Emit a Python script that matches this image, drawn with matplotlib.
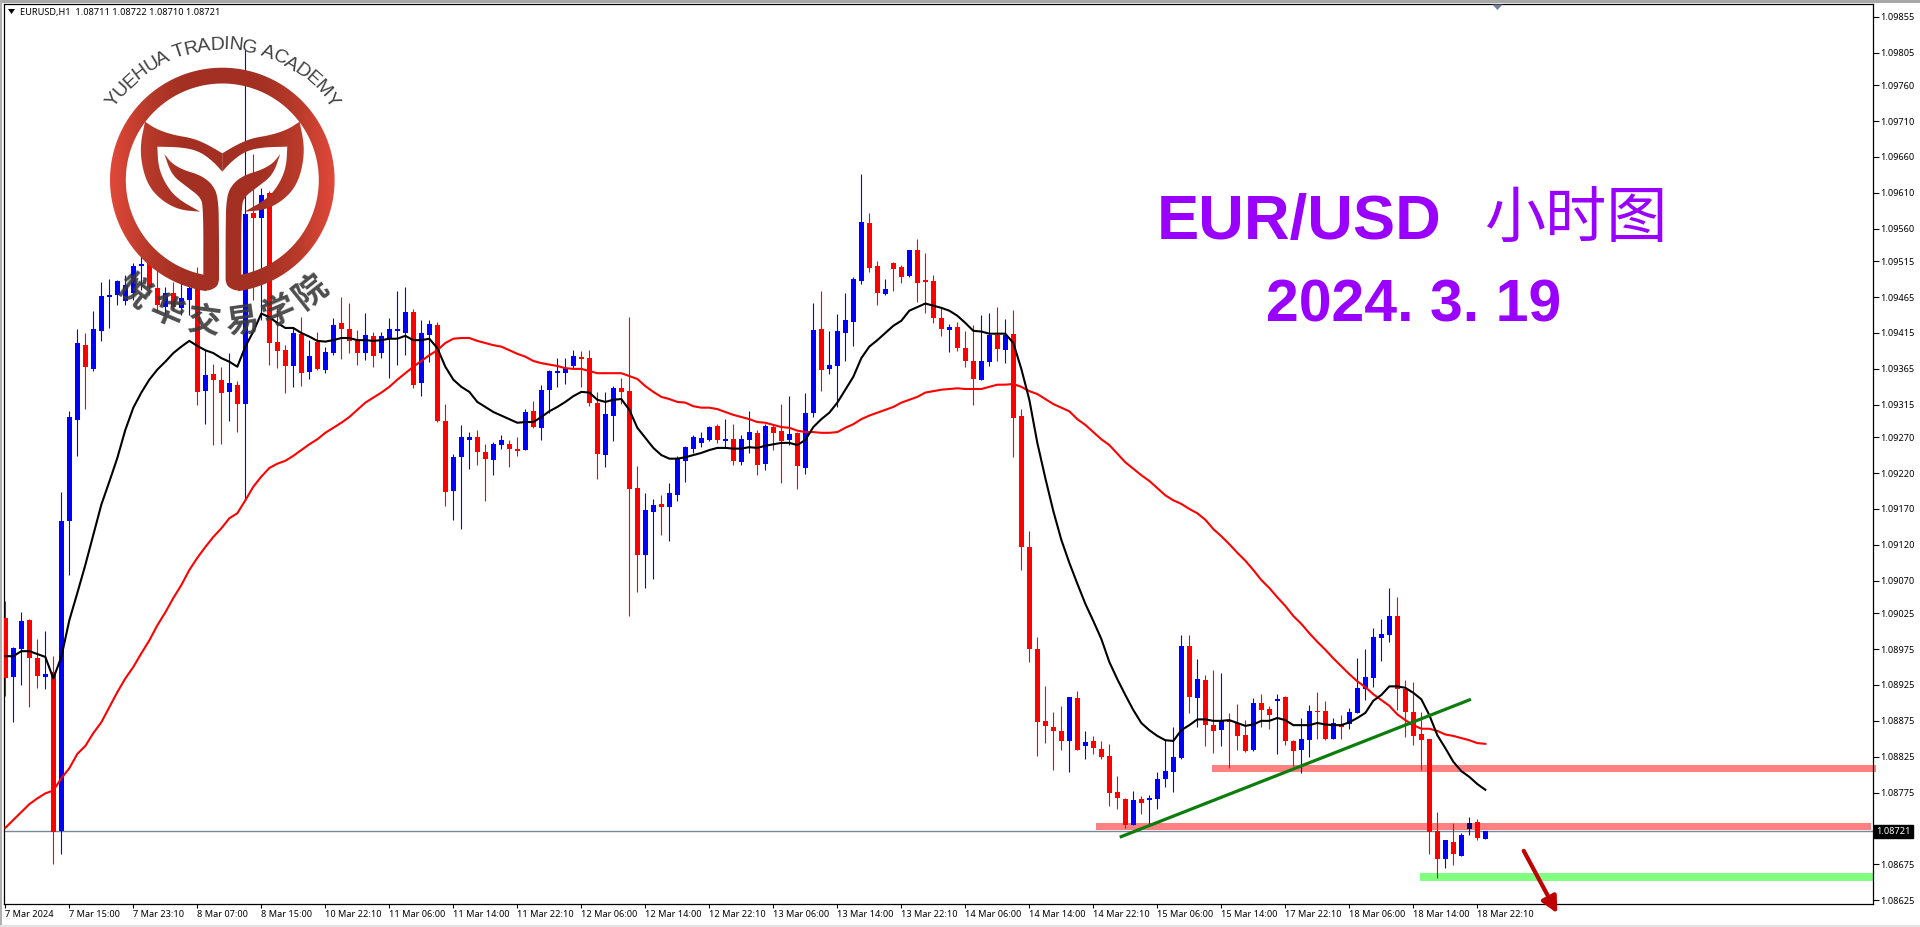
import numpy as np
import matplotlib
matplotlib.use('Agg')
import matplotlib.pyplot as plt
from matplotlib.colors import LinearSegmentedColormap
from matplotlib.font_manager import FontProperties
from matplotlib.patches import Polygon, Rectangle
from matplotlib.transforms import ScaledTranslation

# all prices are in points above this level
base_price = 1.08

opens = [
    1018, 936, 975, 1015, 962, 936, 943, 721, 1153, 1294,
    1398, 1365, 1418, 1465, 1468, 1460, 1471, 1508, 1513, 1478,
    1451, 1471, 1450, 1461, 1479, 1334, 1358, 1350, 1333, 1343,
    1316, 1582, 1575, 1610, 1403, 1391, 1369, 1414, 1361, 1403,
    1364, 1387, 1429, 1421, 1404, 1387, 1411, 1387, 1408, 1418,
    1415, 1444, 1345, 1412, 1426, 1293, 1195, 1242, 1266, 1270,
    1249, 1238, 1259, 1260, 1254, 1252, 1306, 1283, 1336, 1359,
    1359, 1369, 1382, 1380, 1318, 1245, 1300, 1338, 1334, 1199,
    1106, 1166, 1177, 1173, 1189, 1237, 1254, 1262, 1266, 1286,
    1265, 1267, 1235, 1266, 1276, 1233, 1284, 1279, 1266, 1276,
    1227, 1304, 1421, 1365, 1369, 1415, 1430, 1488, 1568, 1508,
    1469, 1513, 1507, 1495, 1531, 1489, 1488, 1436, 1419, 1423,
    1394, 1376, 1350, 1375, 1412, 1391, 1414, 1300, 1117, 975,
    875, 866, 861, 847, 907, 840, 847, 836, 826, 776,
    766, 730, 766, 765, 766, 794, 804, 823, 979, 907,
    932, 869, 862, 876, 872, 855, 834, 900, 891, 902,
    908, 847, 834, 848, 889, 889, 850, 869, 870, 886,
    919, 935, 990, 994, 1021, 919, 887, 857, 850, 721,
    682, 707, 687, 724, 734, 711,
]
closes = [
    934, 976, 1014, 962, 937, 940, 720, 1153, 1298, 1401,
    1368, 1421, 1467, 1468, 1488, 1482, 1508, 1511, 1479, 1454,
    1471, 1451, 1464, 1478, 1333, 1357, 1350, 1332, 1345, 1316,
    1581, 1575, 1607, 1401, 1390, 1369, 1415, 1359, 1383, 1365,
    1389, 1426, 1421, 1404, 1387, 1412, 1383, 1411, 1421, 1421,
    1444, 1343, 1415, 1428, 1293, 1194, 1242, 1270, 1270, 1249,
    1240, 1260, 1266, 1254, 1251, 1305, 1284, 1336, 1362, 1362,
    1366, 1383, 1379, 1318, 1247, 1302, 1338, 1333, 1198, 1106,
    1169, 1176, 1173, 1192, 1240, 1256, 1270, 1269, 1284, 1266,
    1267, 1237, 1267, 1277, 1231, 1286, 1276, 1265, 1274, 1230,
    1304, 1419, 1364, 1371, 1418, 1433, 1490, 1570, 1506, 1471,
    1476, 1504, 1493, 1531, 1485, 1486, 1436, 1421, 1423, 1394,
    1376, 1351, 1376, 1412, 1393, 1412, 1297, 1117, 975, 873,
    868, 861, 847, 908, 834, 845, 837, 824, 774, 767,
    730, 765, 760, 767, 794, 805, 824, 979, 908, 933,
    869, 861, 875, 873, 854, 833, 900, 890, 883, 905,
    847, 833, 850, 889, 887, 850, 872, 866, 887, 921,
    936, 992, 996, 1021, 919, 887, 854, 848, 720, 682,
    709, 689, 716, 733, 712, 721,
]
highs = [
    1042, 978, 1026, 1017, 989, 1000, 965, 1194, 1306, 1421,
    1415, 1446, 1486, 1490, 1489, 1496, 1513, 1545, 1531, 1503,
    1479, 1486, 1485, 1493, 1507, 1391, 1372, 1368, 1387, 1348,
    1809, 1664, 1617, 1612, 1451, 1398, 1422, 1437, 1405, 1417,
    1396, 1436, 1465, 1457, 1419, 1443, 1417, 1417, 1436, 1474,
    1479, 1449, 1433, 1433, 1430, 1316, 1247, 1287, 1277, 1280,
    1260, 1263, 1273, 1266, 1270, 1309, 1320, 1343, 1364, 1380,
    1380, 1391, 1390, 1391, 1333, 1333, 1341, 1352, 1437, 1230,
    1192, 1184, 1189, 1206, 1244, 1258, 1273, 1277, 1286, 1288,
    1295, 1288, 1273, 1306, 1280, 1288, 1288, 1316, 1327, 1277,
    1332, 1457, 1474, 1418, 1442, 1471, 1493, 1637, 1582, 1515,
    1490, 1514, 1510, 1531, 1546, 1527, 1496, 1450, 1428, 1430,
    1418, 1426, 1440, 1443, 1451, 1435, 1447, 1309, 1139, 992,
    923, 887, 896, 908, 916, 861, 854, 847, 843, 798,
    767, 778, 770, 772, 804, 848, 866, 994, 994, 961,
    939, 946, 942, 886, 898, 876, 907, 912, 896, 912,
    909, 848, 879, 897, 915, 903, 879, 883, 893, 962,
    975, 1004, 1017, 1060, 1047, 932, 929, 887, 850, 748,
    709, 733, 719, 741, 738, 722,
]
lows = [
    909, 873, 925, 894, 921, 919, 675, 689, 1078, 1244,
    1309, 1362, 1404, 1422, 1454, 1454, 1461, 1475, 1468, 1444,
    1440, 1447, 1440, 1440, 1315, 1288, 1259, 1260, 1293, 1277,
    1183, 1461, 1433, 1371, 1366, 1332, 1340, 1341, 1351, 1364,
    1359, 1384, 1379, 1387, 1371, 1378, 1368, 1380, 1352, 1371,
    1384, 1338, 1327, 1375, 1291, 1174, 1155, 1142, 1226, 1231,
    1181, 1217, 1254, 1228, 1244, 1252, 1283, 1266, 1304, 1340,
    1344, 1366, 1340, 1313, 1212, 1228, 1265, 1316, 1021, 1054,
    1060, 1072, 1134, 1125, 1181, 1208, 1248, 1256, 1265, 1262,
    1255, 1231, 1231, 1248, 1217, 1224, 1252, 1206, 1259, 1198,
    1219, 1298, 1334, 1358, 1312, 1376, 1397, 1483, 1500, 1454,
    1468, 1474, 1485, 1493, 1458, 1443, 1429, 1411, 1389, 1390,
    1368, 1315, 1350, 1369, 1376, 1373, 1242, 1085, 957, 826,
    844, 806, 834, 804, 834, 822, 829, 822, 756, 752,
    726, 730, 745, 730, 752, 783, 776, 822, 886, 866,
    840, 830, 840, 809, 834, 831, 833, 866, 864, 829,
    841, 812, 802, 824, 850, 848, 850, 850, 864, 886,
    904, 922, 958, 985, 890, 852, 841, 806, 689, 656,
    670, 674, 687, 716, 709, 710,
]
fast_ma = [
    965, 965, 972, 972, 968, 964, 934, 964, 1015, 1053,
    1092, 1134, 1176, 1208, 1241, 1280, 1311, 1332, 1350, 1364,
    1375, 1387, 1396, 1404, 1397, 1391, 1387, 1380, 1375, 1368,
    1396, 1417, 1442, 1437, 1429, 1422, 1422, 1415, 1410, 1404,
    1403, 1405, 1408, 1408, 1405, 1405, 1404, 1405, 1407, 1407,
    1411, 1405, 1405, 1407, 1394, 1368, 1350, 1340, 1333, 1319,
    1312, 1305, 1300, 1295, 1290, 1291, 1291, 1298, 1306, 1312,
    1319, 1327, 1333, 1332, 1322, 1319, 1322, 1323, 1308, 1283,
    1269, 1255, 1245, 1240, 1240, 1242, 1245, 1248, 1252, 1255,
    1255, 1254, 1254, 1256, 1255, 1258, 1260, 1262, 1262, 1259,
    1266, 1284, 1295, 1304, 1318, 1336, 1354, 1380, 1396, 1405,
    1415, 1425, 1432, 1446, 1451, 1456, 1453, 1450, 1446, 1439,
    1429, 1418, 1417, 1414, 1414, 1414, 1401, 1365, 1322, 1262,
    1213, 1167, 1127, 1095, 1066, 1038, 1014, 989, 957, 933,
    911, 890, 872, 862, 854, 848, 847, 862, 869, 877,
    877, 875, 875, 876, 872, 868, 870, 875, 875, 879,
    876, 869, 869, 869, 872, 870, 869, 869, 873, 879,
    886, 903, 911, 923, 923, 921, 914, 905, 883, 855,
    837, 818, 805, 797, 787, 779,
]
slow_ma = [
    726, 737, 748, 759, 767, 774, 778, 795, 809, 829,
    840, 858, 873, 894, 915, 934, 950, 969, 987, 1008,
    1026, 1046, 1064, 1085, 1102, 1117, 1131, 1143, 1157, 1164,
    1182, 1201, 1215, 1227, 1233, 1237, 1244, 1252, 1260, 1267,
    1276, 1283, 1290, 1298, 1308, 1318, 1325, 1332, 1340, 1350,
    1359, 1368, 1376, 1384, 1391, 1401, 1407, 1408, 1408, 1404,
    1401, 1398, 1396, 1391, 1386, 1382, 1376, 1373, 1371, 1369,
    1366, 1365, 1365, 1362, 1359, 1359, 1359, 1359, 1355, 1351,
    1341, 1333, 1326, 1323, 1319, 1318, 1313, 1311, 1311, 1309,
    1305, 1301, 1298, 1295, 1291, 1290, 1287, 1284, 1283, 1279,
    1277, 1277, 1276, 1276, 1277, 1283, 1288, 1295, 1300, 1304,
    1308, 1312, 1318, 1322, 1326, 1332, 1334, 1336, 1337, 1338,
    1337, 1337, 1337, 1340, 1343, 1343, 1344, 1340, 1334, 1330,
    1323, 1316, 1311, 1306, 1295, 1287, 1277, 1267, 1259, 1247,
    1235, 1226, 1217, 1209, 1199, 1189, 1182, 1177, 1170, 1164,
    1155, 1142, 1132, 1121, 1109, 1098, 1085, 1071, 1060, 1047,
    1035, 1021, 1010, 997, 985, 974, 962, 951, 940, 930,
    922, 912, 904, 896, 884, 876, 869, 864, 864, 861,
    856, 854, 851, 848, 844, 843,
]

x_labels = [
    '7 Mar 2024', '7 Mar 15:00', '7 Mar 23:10', '8 Mar 07:00', '8 Mar 15:00', '10 Mar 22:10',
    '11 Mar 06:00', '11 Mar 14:00', '11 Mar 22:10', '12 Mar 06:00', '12 Mar 14:00', '12 Mar 22:10',
    '13 Mar 06:00', '13 Mar 14:00', '13 Mar 22:10', '14 Mar 06:00', '14 Mar 14:00', '14 Mar 22:10',
    '15 Mar 06:00', '15 Mar 14:00', '17 Mar 22:10', '18 Mar 06:00', '18 Mar 14:00', '18 Mar 22:10',
]
y_labels = [
    '1.09855', '1.09805', '1.09760', '1.09710', '1.09660', '1.09610', '1.09560', '1.09515', '1.09465',
    '1.09415', '1.09365', '1.09315', '1.09270', '1.09220', '1.09170', '1.09120', '1.09070', '1.09025',
    '1.08975', '1.08925', '1.08875', '1.08825', '1.08775', '1.08675', '1.08625',
]

# drawn objects on the chart: bar index range and price range in points
resistance_upper = (150.8, 233.8, 804, 814)
resistance_lower = (136.3, 233.2, 723.5, 733)
support_zone = (176.8, 233.4, 652, 663)
trend_bars = [139.3, 183.2]
trend_points = [713, 905]
arrow_bars = [189.8, 194.0]
arrow_points = [694, 607]

W, H = 1920, 927


def price(points):
    return base_price + np.asarray(points, dtype=float) / 1e5


def chaikin(points, rounds=3):
    # round off a traced outline, the two end points stay where they are
    pts = np.asarray(points, dtype=float)
    for _ in range(rounds):
        q = 0.75 * pts[:-1] + 0.25 * pts[1:]
        r = 0.25 * pts[:-1] + 0.75 * pts[1:]
        mid = np.empty((2 * len(q), 2))
        mid[0::2] = q
        mid[1::2] = r
        pts = np.vstack([pts[0], mid, pts[-1]])
    return pts


fig = plt.figure(figsize=(W / 100, H / 100), dpi=100, facecolor='white')
ax = fig.add_axes([4 / W, (H - 904) / H, (1873 - 4) / W, 900 / H])

opens_p, closes_p, highs_p, lows_p = price(opens), price(closes), price(highs), price(lows)
bars = np.arange(len(opens))
up = closes_p >= opens_p

body_colors = np.where(up, '#0000ff', '#ff0000').tolist()
body_colors[183] = '#00007f'  # sits on the pink zone and comes out dark

ax.set_xlim(-0.166, 233.46)
ax.set_ylim(price(620), price(1873))

for zone, color in [(resistance_upper, '#ff8080'), (resistance_lower, '#ff8080'), (support_zone, '#80ff80')]:
    ax.add_patch(Rectangle((zone[0], price(zone[2])), zone[1] - zone[0], price(zone[3]) - price(zone[2]),
                           fc=color, ec='none', zorder=1, clip_on=False))

ax.axhline(closes_p[-1], color='#778899', lw=1, zorder=1.5)

ax.vlines(bars, lows_p, highs_p, colors=np.where(up, '#0000ff', '#ff0000').tolist(), lw=0.8, zorder=2)
ax.bar(bars, np.abs(closes_p - opens_p), bottom=np.minimum(opens_p, closes_p), width=0.64,
       color=body_colors, linewidth=0, zorder=3)

ax.plot(bars, price(slow_ma), color='#ff0000', lw=1.5, zorder=4)
ax.plot(bars, price(fast_ma), color='black', lw=1.5, zorder=5)
ax.plot(trend_bars, price(trend_points), color='#0b7d0b', lw=2.3, zorder=6, solid_capstyle='butt')

ax.annotate('', xy=(arrow_bars[1], price(arrow_points[1])), xytext=(arrow_bars[0], price(arrow_points[0])),
            arrowprops=dict(arrowstyle='-|>', color='#bf0000', lw=3, mutation_scale=24, shrinkA=0, shrinkB=0),
            annotation_clip=False, zorder=8)

tick_font = 'Noto Sans'
ax.set_xticks(bars[::8][:len(x_labels)])
ax.set_xticklabels(x_labels, ha='left', fontsize=6.6, family=tick_font)
nudge = ScaledTranslation(-2 / 100, 0, fig.dpi_scale_trans)
for label in ax.get_xticklabels():
    label.set_transform(label.get_transform() + nudge)
ax.yaxis.tick_right()
ax.set_yticks([float(v) for v in y_labels])
ax.set_yticklabels(y_labels, fontsize=6.6, family=tick_font)
ax.tick_params(axis='x', length=3, width=0.8, pad=1.5)
ax.tick_params(axis='y', length=4, width=0.8, pad=1.5)
for spine in ax.spines.values():
    spine.set_linewidth(0.9)

# current price tag
ax.text(1.0017, closes_p[-1], '1.08721', transform=ax.get_yaxis_transform(), color='white',
        fontsize=6.6, family=tick_font, va='center', ha='left', zorder=10,
        bbox=dict(fc='black', ec='black', pad=1.6), clip_on=False)

# header
fig.text(20 / W, 1 - 12.5 / H, 'EURUSD,H1  1.08711 1.08722 1.08710 1.08721', fontsize=6.6, family=tick_font,
         va='center', ha='left', color='black')

# overlay in pixel space for the watermark, titles and window furniture
ov = fig.add_axes([0, 0, 1, 1], facecolor='none')
ov.set_xlim(0, W)
ov.set_ylim(H, 0)
ov.axis('off')

ov.add_patch(Polygon([(8, 9), (15, 9), (11.5, 14)], fc='black', ec='none'))
ov.add_patch(Polygon([(1492.5, 4.5), (1502.5, 4.5), (1497.5, 10)], fc='#6f8299', ec='none'))
ov.add_patch(Rectangle((0, 0), W, 2.5, fc='#a8a8a8', ec='none'))
ov.add_patch(Rectangle((0, 0), 2, H, fc='#b0b0b0', ec='none'))
ov.add_patch(Rectangle((0, 925), W, 2, fc='#e4e4e4', ec='none'))

purple = '#9900ff'
ov.text(1157, 239, 'EUR/USD', color=purple, fontsize=45.5, fontweight='bold', family='Liberation Sans',
        ha='left', va='baseline')
ov.text(1576, 238, '小时图', color=purple, fontsize=44, fontweight='medium', family='Noto Sans CJK SC',
        ha='center', va='baseline')
ov.text(1414, 322, '2024. 3. 19', color=purple, fontsize=42.5, fontweight='bold', family='Liberation Sans',
        ha='center', va='baseline')

# academy logo, outline traced in 3x zoom pixels around the axis of symmetry
cx, cy = 222.3, 180.0
logo_cmap = LinearSegmentedColormap.from_list('logo', ['#a33022', '#a33022', '#b83a2a', '#e2493a'])
gradient = np.abs(np.linspace(-1, 1, 256)).reshape(1, -1)

theta_o = np.radians(np.linspace(98, 442, 160))
theta_i = np.radians(np.linspace(439, 101, 160))
ring = np.concatenate([
    np.c_[cx + 112.3 * np.cos(theta_o), cy + 112.3 * np.sin(theta_o)],
    np.c_[cx + 96.5 * np.cos(theta_i), cy + 96.5 * np.sin(theta_i)],
])

tail = np.vstack([
    chaikin([(435, 365), (470, 388), (520, 405), (580, 415), (625, 435), (667, 460)]),
    chaikin([(667, 515), (640, 485), (600, 455), (550, 442), (472, 440)]),
    chaikin([(472, 440), (475, 500), (495, 550), (530, 595), (600, 635)]),
    chaikin([(600, 635), (540, 630), (490, 605), (450, 565), (428, 510), (420, 440), (435, 365)]),
]) / 3
stem = np.vstack([
    chaikin([(493, 462), (515, 490), (550, 510), (600, 525), (635, 550), (655, 590), (657, 700), (657, 840)]),
    chaikin([(657, 840), (652, 860), (625, 873), (608, 868)]),
    np.array([(590, 830), (610, 825)], dtype=float),
    chaikin([(610, 825), (610, 620), (600, 590), (560, 560), (515, 525), (493, 462)]),
]) / 3

shapes = [ring, tail, stem]
for shape in [tail, stem]:
    mirrored = shape.copy()
    mirrored[:, 0] = 2 * cx - mirrored[:, 0]
    shapes.append(mirrored)

for shape in shapes:
    patch = Polygon(shape, closed=True, fc='none', ec='none')
    ov.add_patch(patch)
    img = ov.imshow(gradient, cmap=logo_cmap, vmin=0, vmax=1, aspect='auto', interpolation='bilinear',
                    extent=(cx - 113, cx + 113, cy + 115, cy - 115), zorder=6)
    img.set_clip_path(patch)
ov.set_xlim(0, W)
ov.set_ylim(H, 0)

fig.canvas.draw()
renderer = fig.canvas.get_renderer()

en_font = FontProperties(family='Liberation Sans', size=14)
en_text = 'YUEHUA TRADING ACADEMY'
widths = []
for ch in en_text:
    w = renderer.get_text_width_height_descent('n' if ch == ' ' else ch, en_font, False)[0]
    widths.append(w * (0.5 if ch == ' ' else 0.96))
radius = 135
angle = -sum(widths) / radius / 2
for ch, w in zip(en_text, widths):
    mid = angle + w / radius / 2
    ov.text(cx + radius * np.sin(mid), cy - radius * np.cos(mid), ch, fontproperties=en_font,
            rotation=-np.degrees(mid), rotation_mode='anchor', ha='center', va='center', color='#404040', zorder=7)
    angle += w / radius

cn_text = '悦华交易学院'
cn_angles = [-38.5, -23, -7.5, 8, 23, 38.5]
for ch, deg in zip(cn_text, cn_angles):
    a = np.radians(deg)
    ov.text(cx + 143 * np.sin(a), cy + 143 * np.cos(a), ch, fontsize=24, fontweight='bold',
            family='Noto Sans CJK SC', rotation=deg, rotation_mode='anchor', ha='center', va='center',
            color='#3a3a3a', alpha=0.9, zorder=7)

fig.savefig('out.png', dpi=100)
